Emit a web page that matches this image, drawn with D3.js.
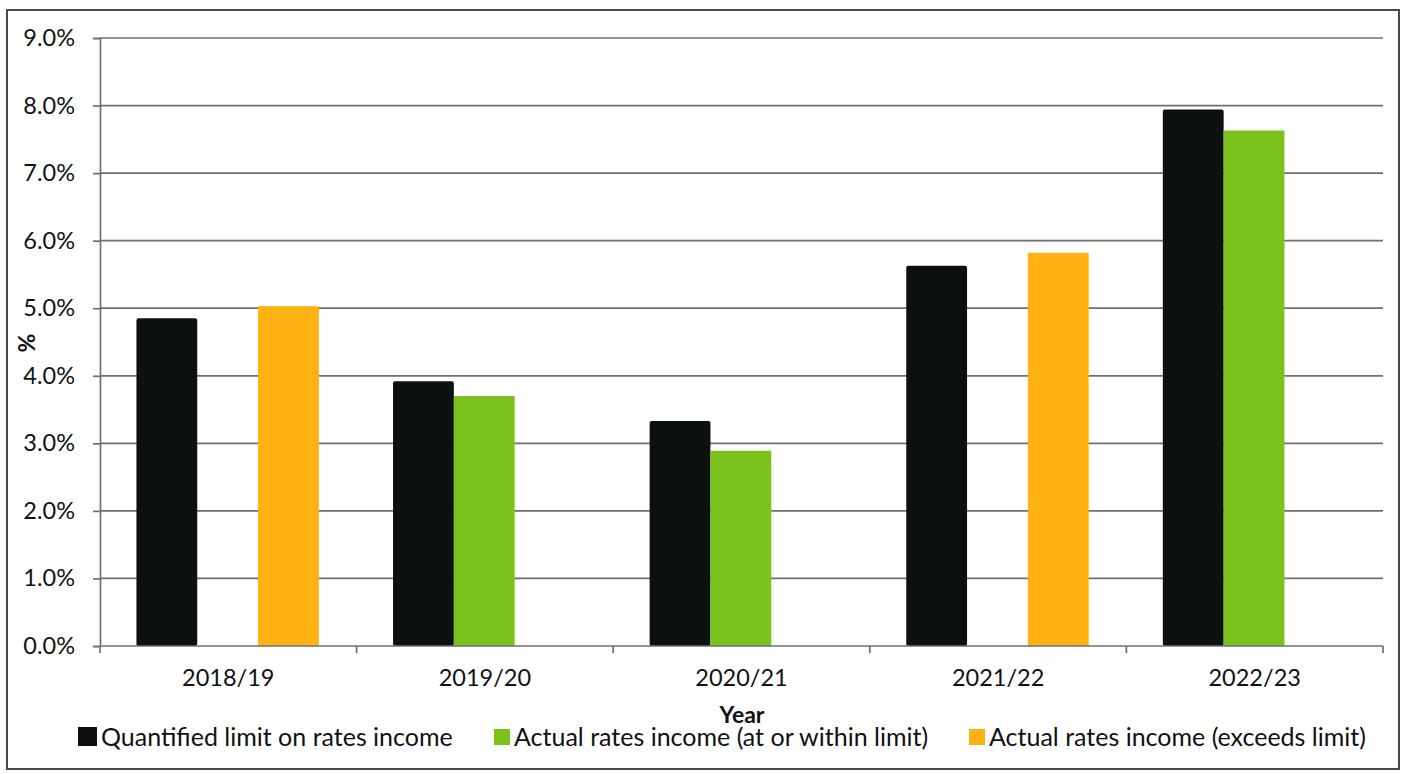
<!DOCTYPE html>
<html>
<head>
<meta charset="utf-8">
<script src="https://cdn.jsdelivr.net/npm/d3@7"></script>
<style>
  html, body { margin: 0; padding: 0; background: #fff; }
  svg { display: block; }
  text { font-family: Lato, "Open Sans", sans-serif; fill: #111; }
</style>
</head>
<body>
<svg id="chart" width="1405" height="774"></svg>
<script>
// Rates income vs the quantified limit, by financial year (%)
const years = ["2018/19", "2019/20", "2020/21", "2021/22", "2022/23"];
const seriesNames = [
  "Quantified limit on rates income",
  "Actual rates income (at or within limit)",
  "Actual rates income (exceeds limit)"
];
const seriesColors = ["#0c110f", "#7cc21c", "#ffb212"];
// null = no bar for that series in that year
const limitValues    = [4.85, 3.92, 3.33, 5.63, 7.94];
const withinValues   = [null, 3.70, 2.89, null, 7.63];
const exceedsValues  = [5.03, null, null, 5.82, null];
const yTicks = [0, 1, 2, 3, 4, 5, 6, 7, 8, 9];
const yAxisTitle = "%";
const xAxisTitle = "Year";

const svg = d3.select("#chart");
const margin = { left: 100, right: 1383, top: 38, bottom: 646 };
const gridColor = "#6f6f6f";

// outer frame
svg.append("rect")
  .attr("x", 7).attr("y", 10).attr("width", 1392).attr("height", 759)
  .attr("fill", "none").attr("stroke", "#4a4a4a").attr("stroke-width", 2);

const x0 = d3.scaleBand().domain(years).range([margin.left, margin.right]).padding(0);
const x1 = d3.scaleBand().domain(seriesNames)
  .range([x0.bandwidth() * 0.142, x0.bandwidth() * 0.853]).padding(0);
const y = d3.scaleLinear().domain([0, 9]).range([margin.bottom, margin.top]);

// gridlines
svg.append("g")
  .selectAll("line").data(yTicks.filter(t => t > 0)).join("line")
  .attr("x1", margin.left).attr("x2", margin.right)
  .attr("y1", d => y(d)).attr("y2", d => y(d))
  .attr("stroke", gridColor).attr("stroke-width", 1.7);

// y axis
const yAxis = d3.axisLeft(y).tickValues(yTicks).tickSize(7).tickPadding(18)
  .tickFormat(d => d.toFixed(1) + "%");
const gy = svg.append("g").attr("transform", `translate(${margin.left},0)`).call(yAxis);
gy.select(".domain").attr("stroke", gridColor).attr("stroke-width", 1.7);
gy.selectAll(".tick line").attr("stroke", gridColor).attr("stroke-width", 1.7);
gy.selectAll(".tick text").style("font-size", "23.5px").attr("fill", "#111")
  .attr("font-family", "Lato, sans-serif");

// bars
const rows = years.map((yr, i) => ({
  year: yr,
  vals: [limitValues[i], withinValues[i], exceedsValues[i]]
}));
const groups = svg.append("g").selectAll("g").data(rows).join("g")
  .attr("transform", d => `translate(${x0(d.year)},0)`);
groups.selectAll("rect")
  .data(d => d.vals.map((v, k) => ({ name: seriesNames[k], color: seriesColors[k], v }))
    .filter(e => e.v !== null))
  .join("rect")
  .attr("x", d => x1(d.name))
  .attr("width", x1.bandwidth())
  .attr("y", d => y(d.v))
  .attr("height", d => y(0) - y(d.v))
  .attr("fill", d => d.color)
  .attr("rx", d => d.name === seriesNames[0] ? 2 : 0);

// x axis with boundary ticks
const gx = svg.append("g").attr("transform", `translate(0,${margin.bottom})`);
gx.append("line").attr("x1", margin.left).attr("x2", margin.right)
  .attr("y1", 0).attr("y2", 0).attr("stroke", gridColor).attr("stroke-width", 1.7);
const bounds = years.map(d => x0(d)).concat([margin.right]);
gx.selectAll("line.b").data(bounds).join("line").attr("class", "b")
  .attr("x1", d => d).attr("x2", d => d).attr("y1", 0).attr("y2", 7)
  .attr("stroke", gridColor).attr("stroke-width", 1.7);
gx.selectAll("text").data(years).join("text")
  .attr("x", d => x0(d) + x0.bandwidth() / 2)
  .attr("y", 40)
  .attr("text-anchor", "middle")
  .style("font-size", "23.5px")
  .text(d => d);

// axis titles
svg.append("text")
  .attr("transform", "translate(35,343) rotate(-90)")
  .attr("text-anchor", "middle")
  .style("font-size", "23px").style("font-weight", "bold")
  .text(yAxisTitle);
svg.append("text")
  .attr("x", 742).attr("y", 723)
  .attr("text-anchor", "middle")
  .style("font-size", "23px").style("font-weight", "bold")
  .text(xAxisTitle);

// legend
const legendX = [78, 494, 969];
const swatch = [19, 16, 16];
const leg = svg.append("g").selectAll("g").data(seriesNames).join("g")
  .attr("transform", (d, i) => `translate(${legendX[i]},0)`);
leg.append("rect")
  .attr("x", 0).attr("y", (d, i) => 746 - swatch[i] - (i === 0 ? 0 : 1))
  .attr("width", (d, i) => swatch[i]).attr("height", (d, i) => swatch[i])
  .attr("fill", (d, i) => seriesColors[i]);
leg.append("text")
  .attr("x", (d, i) => swatch[i] + 4)
  .attr("y", 746)
  .style("font-size", "25px")
  .text(d => d);
</script>
</body>
</html>
